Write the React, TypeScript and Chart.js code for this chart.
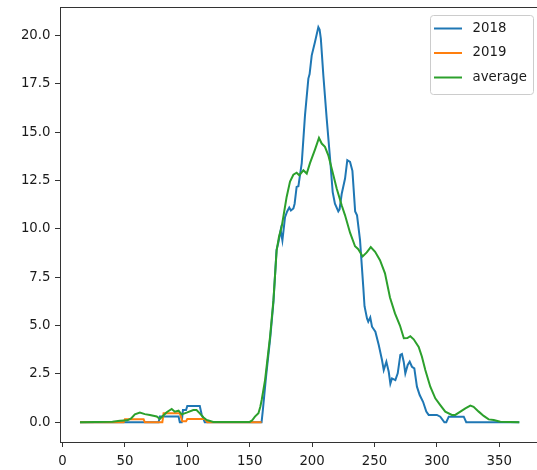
import React, { useEffect, useRef } from "react";
import { Chart, registerables } from "chart.js";

Chart.register(...registerables);

// Series labels and colours (matplotlib tab10 defaults)
const seriesLabels = ["2018", "2019", "average"];
const seriesColors = ["#1f77b4", "#ff7f0e", "#2ca02c"];

// 2018: day of year -> value
const days2018 = [
  14, 77, 78, 93, 94, 95.5, 96.5, 99, 100, 110, 111.5, 114, 159.5, 160.5, 163, 166.5,
  169, 171.5, 173, 174.8, 176.2, 178.3, 180, 181.7, 183, 185, 186, 187.6, 189, 191.7,
  194.3, 197, 198, 199.7, 202.3, 205, 206, 207, 209, 211.7, 214.3, 216.5, 218.3, 221,
  222, 223.7, 226.4, 228.2, 230.4, 232.3, 234.5, 236, 238.4, 241, 242, 244, 245, 246.6,
  248, 250.7, 253.4, 256, 257.4, 259.5, 261.4, 262.7, 264, 266.7, 268.6, 270.7, 272,
  273.4, 274.7, 276.6, 278.2, 280, 281.9, 284, 286.2, 288.9, 291.5, 293.4, 300, 302.7,
  306, 307.5, 309.5, 321.5, 323.5, 366,
];
const values2018 = [
  0, 0, 0.3, 0.3, 0, 0, 0.63, 0.63, 0.84, 0.84, 0.4, 0, 0, 0.6, 2.3, 4.4,
  6.2, 8.9, 9.3, 9.93, 9.4, 10.6, 10.9, 11.1, 10.95, 11.05, 11.3, 12.17, 12.2, 13.4,
  15.87, 17.77, 18.0, 18.97, 19.66, 20.43, 20.3, 19.83, 17.94, 15.7, 13.7, 11.9, 11.3, 10.9,
  11.0, 11.8, 12.6, 13.55, 13.46, 13.0, 10.9, 10.7, 9.42, 7.0, 6.0, 5.37, 5.2, 5.42,
  4.94, 4.68, 3.99, 3.22, 2.7, 3.13, 2.61, 2.0, 2.27, 2.18, 2.53, 3.48, 3.53,
  3.13, 2.53, 2.96, 3.13, 2.87, 2.79, 1.84, 1.41, 1.06, 0.55, 0.38, 0.38, 0.29,
  0, 0, 0.29, 0.29, 0, 0,
];

// 2019: day of year -> value
const days2019 = [14, 49, 50, 65, 66, 80, 81, 94, 96, 99, 100, 114, 116, 159.5];
const values2019 = [0, 0, 0.15, 0.15, 0, 0, 0.46, 0.46, 0.05, 0.05, 0.17, 0.17, 0, 0];

// average: day of year -> value
const daysAverage = [
  14, 40, 46, 52, 55, 58, 62, 66, 70, 75.5, 78, 80, 83.5, 87.5, 90, 93, 95.5, 99.5,
  104.8, 107.4, 110, 113, 115.5, 120.8, 150, 152, 154.2, 157, 158.5, 159.6, 162.3,
  166.3, 169, 171.6, 173.5, 175.6, 179.6, 182.3, 185, 187.6, 189.7, 193, 195.7, 198.3,
  202.3, 205.5, 207.7, 210.3, 213, 215.7, 219.7, 223.7, 226.4, 230.4, 234.4, 237,
  240.5, 243.8, 247, 250.5, 254.4, 258.4, 262.4, 266.4, 270.4, 273.5, 276.3, 278.7,
  281.4, 285.4, 288, 290.7, 294.7, 298.7, 302.7, 306.7, 312, 314.7, 318.8, 322.8,
  326.8, 329.4, 333.5, 337.5, 341.5, 345.5, 350.8, 366,
];
const valuesAverage = [
  0, 0.03, 0.08, 0.1, 0.2, 0.41, 0.5, 0.42, 0.38, 0.3, 0.17, 0.3, 0.52, 0.69, 0.55, 0.6, 0.41, 0.5,
  0.63, 0.63, 0.46, 0.25, 0.12, 0.02, 0.02, 0.1, 0.29, 0.47, 0.8, 1.15, 2.18,
  4.42, 6.3, 8.9, 9.6, 10.1, 11.65, 12.45, 12.8, 12.9, 12.77, 13.03, 12.86, 13.4,
  14.1, 14.7, 14.41, 14.24, 13.8, 13.12, 12.09, 11.22, 10.7, 9.8, 9.1, 8.95,
  8.57, 8.78, 9.06, 8.81, 8.38, 7.7, 6.45, 5.63, 5.0, 4.34, 4.35, 4.45,
  4.29, 3.9, 3.39, 2.7, 1.84, 1.24, 0.89, 0.55, 0.38, 0.38, 0.55, 0.72,
  0.86, 0.8, 0.55, 0.33, 0.15, 0.12, 0.03, 0,
];

const xTicks = [0, 50, 100, 150, 200, 250, 300, 350];
const yTicks = [0, 2.5, 5, 7.5, 10, 12.5, 15, 17.5, 20];

const toPoints = (xs: number[], ys: number[]) => xs.map((x, i) => ({ x, y: ys[i] }));

const axisColor = "#333333";
const textColor = "#1a1a1a";
const fontFamily = "'DejaVu Sans', sans-serif";
const fontSize = 13.3;
const tickFont = { family: fontFamily, size: fontSize };

// Top frame line of the axes box
const topSpine = {
  id: "topSpine",
  afterDraw(chart: any) {
    const { ctx, chartArea } = chart;
    ctx.save();
    ctx.strokeStyle = axisColor;
    ctx.lineWidth = 1;
    ctx.beginPath();
    ctx.moveTo(chartArea.left, chartArea.top + 0.5);
    ctx.lineTo(chartArea.right, chartArea.top + 0.5);
    ctx.stroke();
    ctx.restore();
  },
};

// Framed legend in the upper right corner of the axes
const boxLegend = {
  id: "boxLegend",
  afterDraw(chart: any) {
    const { ctx, chartArea } = chart;
    const left = chartArea.left + 370.5;
    const top = chartArea.top + 8.5;
    const width = 103;
    const height = 79;
    ctx.save();
    ctx.beginPath();
    ctx.roundRect(left, top, width, height, 3);
    ctx.fillStyle = "rgba(255,255,255,0.8)";
    ctx.fill();
    ctx.strokeStyle = "#cccccc";
    ctx.lineWidth = 1;
    ctx.stroke();
    ctx.font = `${fontSize}px ${fontFamily}`;
    ctx.textBaseline = "middle";
    ctx.textAlign = "left";
    chart.data.datasets.forEach((ds: any, i: number) => {
      const y = top + 13 + i * 24.5;
      ctx.beginPath();
      ctx.moveTo(left + 3.5, y);
      ctx.lineTo(left + 31.5, y);
      ctx.strokeStyle = ds.borderColor;
      ctx.lineWidth = 2;
      ctx.stroke();
      ctx.fillStyle = textColor;
      ctx.fillText(ds.label, left + 42, y);
    });
    ctx.restore();
  },
};

export default function App() {
  const canvasRef = useRef<HTMLCanvasElement | null>(null);

  useEffect(() => {
    if (!canvasRef.current) return;
    const series = [
      toPoints(days2018, values2018),
      toPoints(days2019, values2019),
      toPoints(daysAverage, valuesAverage),
    ];
    const chart = new Chart(canvasRef.current, {
      type: "line",
      data: {
        datasets: series.map((data, i) => ({
          label: seriesLabels[i],
          data,
          borderColor: seriesColors[i],
          backgroundColor: seriesColors[i],
          borderWidth: 2,
          pointRadius: 0,
          tension: 0,
          fill: false,
          order: 2 - i,
        })),
      },
      options: {
        responsive: false,
        animation: false,
        events: [],
        layout: { padding: { top: 7, right: 0, bottom: 0, left: 0 } },
        plugins: {
          legend: { display: false },
          tooltip: { enabled: false },
        },
        scales: {
          x: {
            type: "linear",
            min: -2,
            max: 380.2,
            afterBuildTicks: (s: any) => {
              s.ticks = xTicks.map((value) => ({ value }));
            },
            afterFit: (s: any) => {
              s.height = 28;
              s.paddingLeft = 0;
              s.paddingRight = 0;
              s.paddingTop = 0;
              s.paddingBottom = 0;
            },
            grid: {
              drawOnChartArea: false,
              drawTicks: true,
              tickLength: 5,
              tickColor: axisColor,
              tickWidth: 1,
            },
            border: { color: axisColor, width: 1 },
            ticks: {
              padding: 6.5,
              color: textColor,
              font: tickFont,
              maxRotation: 0,
              autoSkip: false,
              callback: (v: any) => String(v),
            },
          },
          y: {
            type: "linear",
            min: -1.02,
            max: 21.47,
            afterBuildTicks: (s: any) => {
              s.ticks = yTicks.map((value) => ({ value }));
            },
            afterFit: (s: any) => {
              s.width = 60;
              s.paddingLeft = 0;
              s.paddingRight = 0;
              s.paddingTop = 0;
              s.paddingBottom = 0;
            },
            grid: {
              drawOnChartArea: false,
              drawTicks: true,
              tickLength: 5,
              tickColor: axisColor,
              tickWidth: 1,
            },
            border: { color: axisColor, width: 1 },
            ticks: {
              padding: 4.5,
              color: textColor,
              font: tickFont,
              autoSkip: false,
              callback: (v: any) => Number(v).toFixed(1),
            },
          },
        },
      },
      plugins: [topSpine, boxLegend],
    });
    return () => chart.destroy();
  }, []);

  return (
    <div style={{ position: "fixed", left: 0, top: 0, width: 537, height: 470, background: "#ffffff" }}>
      <canvas ref={canvasRef} width={537} height={470} style={{ display: "block" }} />
    </div>
  );
}
